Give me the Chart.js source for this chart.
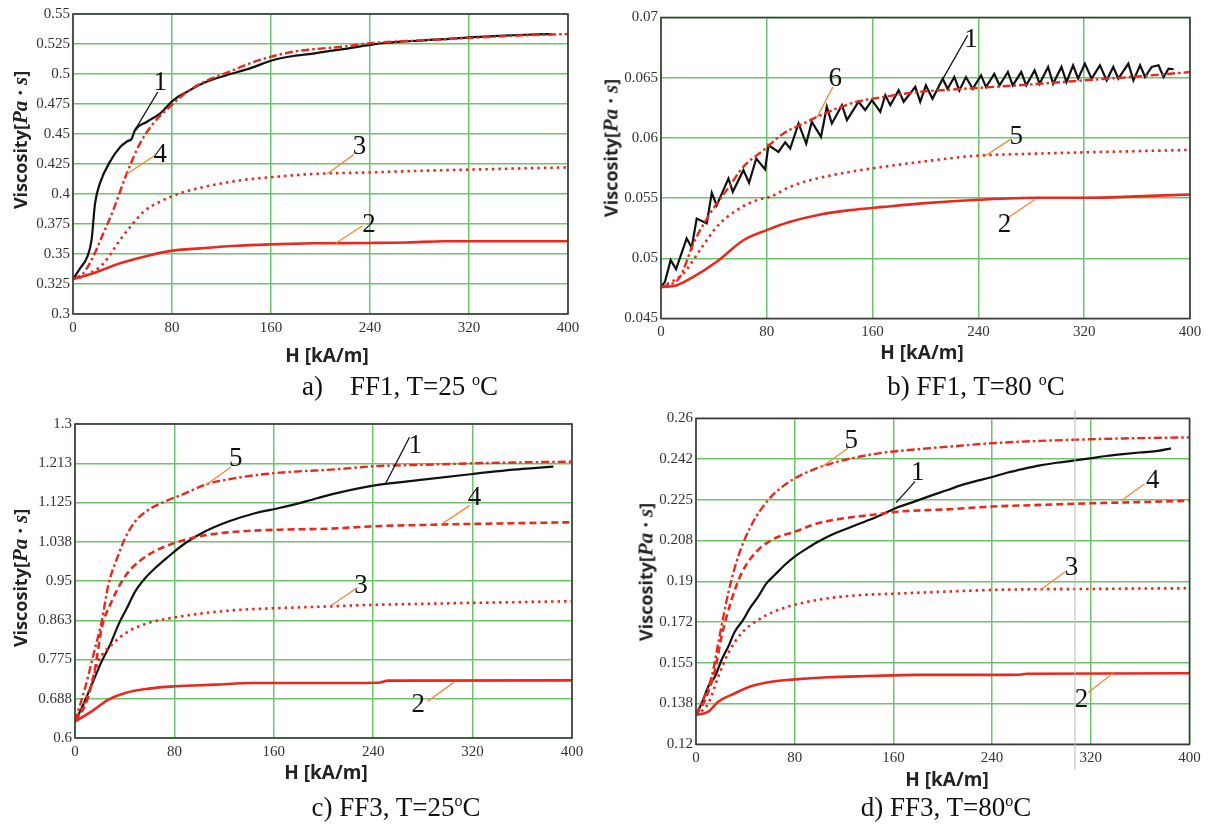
<!DOCTYPE html>
<html><head><meta charset="utf-8">
<script src="https://cdn.jsdelivr.net/npm/chart.js@4.4.1/dist/chart.umd.min.js"></script>
<style>
html,body{margin:0;padding:0;background:#fff;width:1214px;height:824px;overflow:hidden;position:relative}
canvas{position:absolute}
.yt{position:absolute;white-space:nowrap;transform:translate(-50%,-50%) rotate(-90deg);font-family:'Open Sans',sans-serif;font-weight:700;font-size:18px;color:#222}
.yt i{font-family:'Liberation Serif',serif;font-weight:700;font-style:italic;font-size:21px}
.xt{position:absolute;white-space:nowrap;transform:translate(-50%,-50%);font-family:'Open Sans',sans-serif;font-weight:700;font-size:19px;color:#222}
.cap{position:absolute;white-space:nowrap;transform:translate(-50%,-50%);font-family:'Liberation Serif',serif;font-size:27px;color:#111}
.cap sup{font-size:16px;vertical-align:10px;line-height:0}
</style>
</head><body>
<canvas id="ca" width="600" height="345" style="left:0;top:0"></canvas>
<canvas id="cb" width="614" height="350" style="left:600px;top:0"></canvas>
<canvas id="cc" width="600" height="365" style="left:0;top:405px"></canvas>
<canvas id="cd" width="614" height="370" style="left:600px;top:405px"></canvas>

<div class="yt" style="left:20px;top:140px">Viscosity[<i>Pa · s</i>]</div>
<div class="yt" style="left:611px;top:148px">Viscosity[<i>Pa · s</i>]</div>
<div class="yt" style="left:20px;top:578px">Viscosity[<i>Pa · s</i>]</div>
<div class="yt" style="left:646px;top:572px">Viscosity[<i>Pa · s</i>]</div>

<div class="xt" style="left:327px;top:355px">H [kA/m]</div>
<div class="xt" style="left:922px;top:352px">H [kA/m]</div>
<div class="xt" style="left:326px;top:772px">H [kA/m]</div>
<div class="xt" style="left:947px;top:779px">H [kA/m]</div>

<div class="cap" style="left:400px;top:386px">a)&nbsp;&nbsp;&nbsp; FF1, T=25 <sup>o</sup>C</div>
<div class="cap" style="left:976px;top:386px">b) FF1, T=80 <sup>o</sup>C</div>
<div class="cap" style="left:396px;top:807px">c) FF3, T=25<sup>o</sup>C</div>
<div class="cap" style="left:946px;top:807px">d) FF3, T=80<sup>o</sup>C</div>

<script>
// ---------- tick values / labels ----------
const xTicks = [0, 80, 160, 240, 320, 400];
const xLabels = ['0', '80', '160', '240', '320', '400'];
const aYTicks = [0.3, 0.325, 0.35, 0.375, 0.4, 0.425, 0.45, 0.475, 0.5, 0.525, 0.55];
const aYLabels = ['0.3', '0.325', '0.35', '0.375', '0.4', '0.425', '0.45', '0.475', '0.5', '0.525', '0.55'];
const bYTicks = [0.045, 0.05, 0.055, 0.06, 0.065, 0.07];
const bYLabels = ['0.045', '0.05', '0.055', '0.06', '0.065', '0.07'];
const cYTicks = [0.6, 0.6875, 0.775, 0.8625, 0.95, 1.0375, 1.125, 1.2125, 1.3];
const cYLabels = ['0.6', '0.688', '0.775', '0.863', '0.95', '1.038', '1.125', '1.213', '1.3'];
const dYTicks = [0.12, 0.1375, 0.155, 0.1725, 0.19, 0.2075, 0.225, 0.2425, 0.26];
const dYLabels = ['0.12', '0.138', '0.155', '0.172', '0.19', '0.208', '0.225', '0.242', '0.26'];

// ---------- panel a: FF1, T=25 C ----------
const a1H = [0, 5.7, 11.6, 15, 17.8, 21.8, 29.9, 38, 44, 47.4, 50, 59.5, 70.3, 81, 91.9, 105, 124, 143, 162, 178, 194, 200, 220, 240, 250, 265, 280, 300, 320, 340, 360, 375, 387];
const a1V = [0.329, 0.338, 0.3478, 0.3617, 0.392, 0.409, 0.427, 0.439, 0.444, 0.446, 0.453, 0.460, 0.467, 0.478, 0.485, 0.4923, 0.499, 0.5047, 0.5117, 0.515, 0.517, 0.518, 0.521, 0.5242, 0.5256, 0.527, 0.5278, 0.529, 0.5306, 0.5315, 0.5325, 0.533, 0.5333];
const a2H = [0, 16.4, 38, 62.2, 81, 102.6, 129.5, 159, 194, 240, 270, 300, 400];
const a2V = [0.329, 0.334, 0.3422, 0.349, 0.3528, 0.3547, 0.3567, 0.358, 0.3589, 0.3592, 0.3596, 0.3606, 0.3606];
const a3H = [0, 10, 24.5, 38, 47.4, 56.8, 70.3, 86.5, 110.7, 137.6, 164.6, 194, 240, 280, 320, 360, 400];
const a3V = [0.329, 0.332, 0.342, 0.3617, 0.374, 0.385, 0.3936, 0.4006, 0.407, 0.4117, 0.4144, 0.4167, 0.418, 0.4193, 0.4203, 0.4213, 0.4222];
const a4H = [0, 8.4, 16.4, 24, 32.6, 43.4, 54.1, 65, 78.4, 92, 105, 124, 151, 178, 194, 220, 240, 280, 320, 360, 400];
const a4V = [0.329, 0.334, 0.348, 0.366, 0.3867, 0.417, 0.442, 0.459, 0.4728, 0.485, 0.493, 0.501, 0.5117, 0.5186, 0.5206, 0.523, 0.5256, 0.528, 0.530, 0.532, 0.5333];

// ---------- panel b: FF1, T=80 C ----------
const b1H = [0, 3, 7.3, 11.4, 19.4, 23.2, 27, 34.6, 38.4, 42.1, 51, 54.3, 62.3, 66.6, 72, 78.7, 81.3, 88.8, 93.9, 97.7, 104, 109.8, 114, 121, 125.4, 129.2, 136.8, 140.6, 149.4, 154.4, 159.5, 165.8, 169.6, 173.4, 179.7, 183.5, 192.3, 196, 200.3, 205.3, 213, 216.7, 221.8, 225.6, 230.6, 235.7, 242, 245.8, 252, 256, 262.3, 266, 272.4, 276.2, 282.5, 286.3, 292.7, 296.5, 302.8, 306.6, 311.6, 315.4, 320.5, 325.6, 331.9, 337, 342, 345.8, 353.4, 357.2, 362.3, 366, 371, 376.2, 380, 383.8, 387.6];
const b1V = [0.0476, 0.04805, 0.04985, 0.0491, 0.05165, 0.0509, 0.0533, 0.0529, 0.05544, 0.0544, 0.05663, 0.05552, 0.05732, 0.05627, 0.05829, 0.05738, 0.0594, 0.05884, 0.05963, 0.05912, 0.0612, 0.05953, 0.06133, 0.06009, 0.06258, 0.0612, 0.06272, 0.06147, 0.063, 0.0623, 0.06313, 0.06216, 0.06355, 0.06272, 0.06396, 0.063, 0.06424, 0.063, 0.06436, 0.06325, 0.06492, 0.06408, 0.06506, 0.06394, 0.06506, 0.06408, 0.06519, 0.06422, 0.06533, 0.06436, 0.06547, 0.06436, 0.06547, 0.06436, 0.06561, 0.0645, 0.06589, 0.0645, 0.06589, 0.06464, 0.06603, 0.06492, 0.06617, 0.06492, 0.06603, 0.06478, 0.06589, 0.06492, 0.06617, 0.06478, 0.06603, 0.06506, 0.0659, 0.06603, 0.06506, 0.06575, 0.0657];
const b2H = [0, 11.9, 24.5, 42.1, 62.3, 80, 97.7, 117.9, 143, 168.3, 200, 240, 283.8, 320, 359.7, 400];
const b2V = [0.0476, 0.04777, 0.04846, 0.04971, 0.0515, 0.05234, 0.05303, 0.05358, 0.054, 0.05427, 0.05458, 0.05486, 0.05503, 0.05503, 0.05514, 0.0553];
const b5H = [0, 16.9, 29.5, 42.1, 57.3, 72.4, 82.5, 97.7, 117.9, 143, 168.3, 200, 240, 280, 320, 360, 400];
const b5V = [0.0476, 0.04874, 0.05068, 0.05261, 0.054, 0.05483, 0.0551, 0.05594, 0.05663, 0.05718, 0.0576, 0.05806, 0.05853, 0.05868, 0.0588, 0.0589, 0.059];
const b6H = [0, 14.4, 24.5, 37.1, 49.7, 62.3, 77.5, 92.6, 107.8, 117.9, 133, 148, 168.3, 193.6, 240, 280, 320, 360, 400];
const b6V = [0.0476, 0.04846, 0.05123, 0.05372, 0.05566, 0.0576, 0.05898, 0.06037, 0.0612, 0.06175, 0.06244, 0.063, 0.0634, 0.0638, 0.06415, 0.06445, 0.06478, 0.0651, 0.06547];

// ---------- panel c: FF3, T=25 C ----------
const c1H = [0, 5.4, 13.5, 21.5, 28.3, 35, 41.8, 48.5, 56.6, 64.6, 75.4, 88.9, 105, 124, 145.5, 164.3, 185.9, 204.7, 240, 280, 320, 360, 385];
const c1V = [0.6372, 0.6669, 0.7189, 0.7709, 0.8081, 0.8527, 0.8898, 0.927, 0.9567, 0.979, 1.005, 1.0347, 1.0607, 1.083, 1.1016, 1.1127, 1.1276, 1.142, 1.1627, 1.176, 1.1886, 1.1998, 1.205];
const c2H = [0, 13.5, 26.9, 40.4, 59.3, 80.8, 113, 142.8, 206, 244, 252, 400];
const c2V = [0.6372, 0.6594, 0.6855, 0.7003, 0.71, 0.7152, 0.7189, 0.7226, 0.7226, 0.7232, 0.728, 0.7284];
const c3H = [0, 5.4, 12.1, 18.9, 29.6, 43.1, 59.3, 80.8, 105, 134.7, 167, 206, 240, 280, 320, 360, 400];
const c3V = [0.6372, 0.665, 0.71, 0.771, 0.808, 0.8378, 0.8564, 0.869, 0.8787, 0.8861, 0.8898, 0.8935, 0.8969, 0.899, 0.9013, 0.903, 0.905];
const c4H = [0, 9.4, 16.2, 21.5, 29.6, 37.7, 45.8, 59.3, 72.7, 88.9, 107.7, 134.7, 164.3, 206, 240, 280, 320, 360, 400];
const c4V = [0.6372, 0.6817, 0.756, 0.8452, 0.9047, 0.9493, 0.979, 1.0087, 1.0273, 1.0421, 1.0533, 1.0607, 1.0644, 1.0667, 1.072, 1.075, 1.0773, 1.079, 1.081];
const c5H = [0, 8.1, 16.2, 21.5, 26.9, 35, 40.4, 48.5, 59.3, 72.7, 86.2, 105, 126.6, 153.5, 180.5, 206, 240, 280, 320, 360, 400];
const c5V = [0.6372, 0.7115, 0.8006, 0.86, 0.9418, 1.0087, 1.0459, 1.083, 1.109, 1.1276, 1.1425, 1.1648, 1.1781, 1.1885, 1.1945, 1.1982, 1.2057, 1.209, 1.2124, 1.2145, 1.2161];

// ---------- panel d: FF3, T=80 C ----------
const d1H = [0, 4.6, 10, 15.4, 20.7, 26.1, 31.5, 38.2, 43.6, 50.4, 57.1, 63.8, 71.9, 80, 88.1, 98.9, 109.6, 123.1, 136.6, 150, 163.5, 177, 190.4, 203.9, 214.5, 225.2, 240, 252, 265.5, 279, 292.3, 305.8, 319.2, 332.6, 346, 359.5, 372.9, 385];
const d1V = [0.1326, 0.1376, 0.1448, 0.1491, 0.1562, 0.1619, 0.1684, 0.1734, 0.1784, 0.1834, 0.1891, 0.1927, 0.197, 0.2006, 0.2035, 0.207, 0.2099, 0.2128, 0.2156, 0.2185, 0.2218, 0.2242, 0.2268, 0.2292, 0.2312, 0.2328, 0.2348, 0.2366, 0.2383, 0.2398, 0.2409, 0.2418, 0.2428, 0.2438, 0.2446, 0.2453, 0.2459, 0.2471];
const d2H = [0, 10, 18, 31.5, 45, 61.1, 80, 107, 139.3, 179.7, 240, 262, 268, 400];
const d2V = [0.1326, 0.134, 0.1383, 0.1419, 0.145, 0.1469, 0.1479, 0.1488, 0.1493, 0.1498, 0.1498, 0.1499, 0.1503, 0.1505];
const d3H = [0, 10, 18, 26.1, 36.9, 50.4, 66.5, 85.4, 107, 133.9, 166.2, 203.9, 240, 279, 320, 360, 400];
const d3V = [0.1326, 0.1376, 0.149, 0.1591, 0.1677, 0.1734, 0.1777, 0.1806, 0.1827, 0.1841, 0.1848, 0.1856, 0.1863, 0.1866, 0.1867, 0.1869, 0.187];
const d4H = [0, 7.3, 15.4, 20.7, 28.8, 36.9, 47.7, 61.1, 80, 98.9, 120.4, 142, 163.5, 203.9, 240, 279, 320, 360, 400];
const d4V = [0.1326, 0.139, 0.1519, 0.1662, 0.182, 0.1934, 0.202, 0.2077, 0.2113, 0.2149, 0.2171, 0.2185, 0.2199, 0.2209, 0.2221, 0.2228, 0.2235, 0.224, 0.2246];
const d5H = [0, 12.7, 18, 26.1, 34.2, 45, 58.5, 71.9, 85.4, 101.5, 125.8, 152.7, 179.7, 203.9, 240, 279, 320, 360, 400];
const d5V = [0.1326, 0.1491, 0.1634, 0.1848, 0.2006, 0.2142, 0.2249, 0.2314, 0.2357, 0.2392, 0.2428, 0.2453, 0.2467, 0.2478, 0.2493, 0.2503, 0.251, 0.2515, 0.2518];

// ---------- curve-number callouts (data units) ----------
const aLeaders = [[50, 0.4533, 68.5, 0.485, 'k'], [43.4, 0.4167, 65.5, 0.4317, 'o'], [205.2, 0.4167, 226.9, 0.4328, 'o'], [212.3, 0.3589, 234, 0.3736, 'o']];
const aNums = [['1', 70.5, 0.4923], ['4', 70.5, 0.4325], ['3', 231.5, 0.4389], ['2', 239.2, 0.3744]];
const bLeaders = [[212.9, 0.06486, 231.9, 0.06853, 'k'], [117.9, 0.06169, 130, 0.06424, 'o'], [244.6, 0.05847, 264.5, 0.0599, 'o'], [282.5, 0.05486, 261.5, 0.0533, 'o']];
const bNums = [['1', 234.4, 0.06811], ['6', 131.7, 0.06493], ['5', 268.6, 0.06006], ['2', 259.7, 0.05275]];
const cLeaders = [[105, 1.1633, 125.3, 1.2034, 'o'], [249.8, 1.1664, 269.2, 1.2703, 'k'], [295.4, 1.0773, 317.5, 1.1181, 'o'], [206.2, 0.8954, 227.7, 0.9362, 'o'], [305.2, 0.7246, 283.7, 0.6816, 'o']];
const cNums = [['5', 129.3, 1.2227], ['1', 273.8, 1.2503], ['4', 321.5, 1.1344], ['3', 230.2, 0.94], ['2', 276.3, 0.6727]];
const dLeaders = [[101.5, 0.2390, 123.1, 0.2471, 'o'], [162.2, 0.2238, 177.5, 0.2328, 'k'], [344.7, 0.2246, 363.5, 0.2318, 'o'], [278.9, 0.1863, 299.9, 0.1943, 'o'], [338, 0.1505, 317.9, 0.1422, 'o']];
const dNums = [['5', 125.8, 0.2504], ['1', 179.7, 0.2364], ['4', 370.2, 0.2332], ['3', 304.4, 0.1956], ['2', 312.5, 0.139]];
const dGuide = [307.1];

// ---------- styles ----------
const RED = '#e8291f', BLACK = '#111111', ORANGE = '#f2883a', GREEN = '#6cc46c';
const SOLID = [], DOT = [2.5, 4], DASH = [7, 4], DASHDOT = [8, 3, 2.5, 3];

function pts(H, V) { return H.map((h, i) => ({ x: h, y: V[i] })); }
function line(H, V, color, width, dash, smooth) {
  return {
    data: pts(H, V), borderColor: color, borderWidth: width, borderDash: dash,
    pointRadius: 0, fill: false, tension: 0,
    cubicInterpolationMode: smooth ? 'monotone' : 'default'
  };
}

const callouts = {
  id: 'callouts',
  afterDatasetsDraw(chart, args, o) {
    const { ctx, chartArea: A, scales: { x, y } } = chart;
    ctx.save();
    ctx.strokeStyle = '#3a3a3a'; ctx.lineWidth = 1.6;
    ctx.strokeRect(A.left, A.top, A.right - A.left, A.bottom - A.top);
    (o.guides || []).forEach(g => {
      const px = x.getPixelForValue(g);
      ctx.strokeStyle = 'rgba(190,190,190,0.7)'; ctx.lineWidth = 1.5;
      ctx.beginPath(); ctx.moveTo(px, A.top - 8); ctx.lineTo(px, A.bottom + 26); ctx.stroke();
    });
    ctx.lineWidth = 1.3;
    o.leaders.forEach(L => {
      ctx.strokeStyle = L[4] === 'k' ? '#111' : ORANGE;
      ctx.beginPath();
      ctx.moveTo(x.getPixelForValue(L[0]), y.getPixelForValue(L[1]));
      ctx.lineTo(x.getPixelForValue(L[2]), y.getPixelForValue(L[3]));
      ctx.stroke();
    });
    ctx.fillStyle = '#111';
    ctx.font = '27px "Liberation Serif", serif';
    ctx.textAlign = 'center'; ctx.textBaseline = 'middle';
    o.nums.forEach(N => ctx.fillText(N[0], x.getPixelForValue(N[1]), y.getPixelForValue(N[2])));
    ctx.restore();
  }
};

function panel(id, P) {
  const tickFont = { family: '"Liberation Serif", serif', size: 15 };
  new Chart(document.getElementById(id), {
    type: 'line',
    data: { datasets: P.series },
    plugins: [callouts],
    options: {
      responsive: false, animation: false, devicePixelRatio: 1,
      layout: { padding: { left: 0, top: P.padTop, right: P.padRight, bottom: 0 } },
      plugins: { legend: { display: false }, tooltip: { enabled: false },
        callouts: { leaders: P.leaders, nums: P.nums, guides: P.guides } },
      scales: {
        x: {
          type: 'linear', min: 0, max: 400,
          afterBuildTicks: s => { s.ticks = xTicks.map(v => ({ value: v })); },
          afterFit: s => { s.height = P.xh; },
          ticks: { callback: (v, i) => xLabels[i], font: tickFont, color: '#333', padding: 5, maxRotation: 0, autoSkip: false },
          grid: { color: GREEN, lineWidth: 1.5, drawTicks: false },
          border: { display: false }
        },
        y: {
          type: 'linear', min: P.yt[0], max: P.yt[P.yt.length - 1],
          afterBuildTicks: s => { s.ticks = P.yt.map(v => ({ value: v })); },
          afterFit: s => { s.width = P.yw; },
          ticks: { callback: (v, i) => P.yl[i], font: tickFont, color: '#333', padding: 3, autoSkip: false },
          grid: { color: GREEN, lineWidth: 1.5, drawTicks: false },
          border: { display: false }
        }
      }
    }
  });
}

panel('ca', {
  yt: aYTicks, yl: aYLabels, yw: 73, xh: 31, padTop: 14, padRight: 32,
  leaders: aLeaders, nums: aNums,
  series: [
    line(a2H, a2V, RED, 2.6, SOLID, true),
    line(a3H, a3V, RED, 2.6, DOT, true),
    line(a4H, a4V, RED, 2.4, DASHDOT, true),
    line(a1H, a1V, BLACK, 2.2, SOLID, true)
  ]
});
panel('cb', {
  yt: bYTicks, yl: bYLabels, yw: 61, xh: 31.5, padTop: 17.5, padRight: 24,
  leaders: bLeaders, nums: bNums,
  series: [
    line(b2H, b2V, RED, 2.6, SOLID, true),
    line(b5H, b5V, RED, 2.6, DOT, true),
    line(b6H, b6V, RED, 2.4, DASHDOT, true),
    line(b1H, b1V, BLACK, 2.2, SOLID, false)
  ]
});
panel('cc', {
  yt: cYTicks, yl: cYLabels, yw: 75, xh: 32, padTop: 19, padRight: 28,
  leaders: cLeaders, nums: cNums,
  series: [
    line(c2H, c2V, RED, 2.6, SOLID, true),
    line(c3H, c3V, RED, 2.6, DOT, true),
    line(c4H, c4V, RED, 2.6, DASH, true),
    line(c5H, c5V, RED, 2.4, DASHDOT, true),
    line(c1H, c1V, BLACK, 2.2, SOLID, true)
  ]
});
panel('cd', {
  yt: dYTicks, yl: dYLabels, yw: 96, xh: 30.7, padTop: 13.3, padRight: 24.5,
  leaders: dLeaders, nums: dNums, guides: dGuide,
  series: [
    line(d2H, d2V, RED, 2.6, SOLID, true),
    line(d3H, d3V, RED, 2.6, DOT, true),
    line(d4H, d4V, RED, 2.6, DASH, true),
    line(d5H, d5V, RED, 2.4, DASHDOT, true),
    line(d1H, d1V, BLACK, 2.2, SOLID, true)
  ]
});
</script>
</body></html>
